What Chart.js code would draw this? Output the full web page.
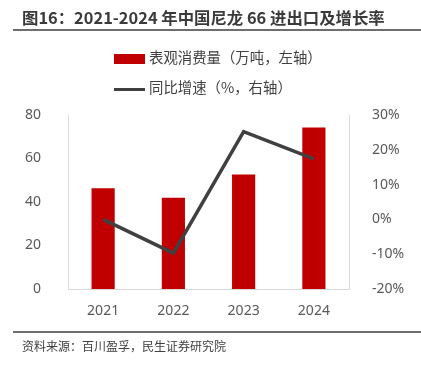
<!DOCTYPE html>
<html>
<head>
<meta charset="utf-8">
<script src="https://cdn.jsdelivr.net/npm/chart.js@4"></script>
<style>
  body { margin: 0; background: #fff; }
  #wrap { position: relative; width: 421px; height: 369px; overflow: hidden; font-family: "Noto Sans CJK SC", sans-serif; }
  #chart { position: absolute; left: 0; top: 0; }
  .title { position: absolute; left: 22px; top: 5px; font-size: 16.4px; font-weight: bold; color: #3a3a3a; white-space: nowrap; }
  .rule { position: absolute; left: 13px; width: 408px; height: 2px; background: #6e6e6e; }
  .legend { position: absolute; left: 114px; font-size: 14.4px; color: #404040; white-space: nowrap; }
  .legend i { display: inline-block; vertical-align: middle; margin-right: 4px; }
  .source { position: absolute; left: 22px; top: 337px; font-size: 12px; color: #404040; }
</style>
</head>
<body>
<div id="wrap">
  <canvas id="chart" width="421" height="369"></canvas>
  <div class="title">图16：2021-2024 年中国尼龙 66 进出口及增长率</div>
  <div class="rule" style="top:29px"></div>
  <div class="legend" style="top:46px"><i style="width:31px;height:10px;background:#c00000"></i>表观消费量（万吨，左轴）</div>
  <div class="legend" style="top:76px"><i style="width:31px;height:3px;background:#404040"></i>同比增速（%，右轴）</div>
  <div class="rule" style="top:331px"></div>
  <div class="source">资料来源：百川盈孚，民生证券研究院</div>
</div>
<script>
// data
const years = ['2021', '2022', '2023', '2024'];
const consumption = [46.3, 42.0, 52.6, 74.2];   // 万吨, left axis
const growth = [0, -9.7, 25.2, 17.4];           // %, right axis

const tickFont = { family: '"Noto Sans", sans-serif', size: 14 };
const tickColor = '#595959';
const axisColor = '#d9d9d9';

new Chart(document.getElementById('chart'), {
  data: {
    labels: years,
    datasets: [
      {
        type: 'line',
        label: '同比增速（%，右轴）',
        data: growth,
        yAxisID: 'y1',
        borderColor: '#404040',
        borderWidth: 3.5,
        pointRadius: 0,
        tension: 0,
        order: 0
      },
      {
        type: 'bar',
        label: '表观消费量（万吨，左轴）',
        data: consumption,
        yAxisID: 'y',
        backgroundColor: '#c00000',
        barPercentage: 0.33,
        categoryPercentage: 1,
        order: 1
      }
    ]
  },
  options: {
    responsive: false,
    animation: false,
    layout: { padding: { top: 115, left: 0, right: 0, bottom: 0 } },
    plugins: { legend: { display: false }, tooltip: { enabled: false } },
    scales: {
      x: {
        grid: { display: false },
        border: { color: axisColor, width: 1 },
        ticks: { font: tickFont, color: tickColor, padding: 6 },
        afterFit: (s) => { s.height = 80; }
      },
      y: {
        position: 'left',
        min: 0, max: 80,
        grid: { display: false },
        border: { color: axisColor, width: 1 },
        ticks: { stepSize: 20, font: tickFont, color: tickColor, padding: 19 },
        afterFit: (s) => { s.width = 68; }
      },
      y1: {
        position: 'right',
        min: -20, max: 30,
        grid: { display: false },
        border: { color: axisColor, width: 1 },
        ticks: { stepSize: 10, font: tickFont, color: tickColor, padding: 15, callback: (v) => v + '%' },
        afterFit: (s) => { s.width = 72; }
      }
    }
  }
});
</script>
</body>
</html>
